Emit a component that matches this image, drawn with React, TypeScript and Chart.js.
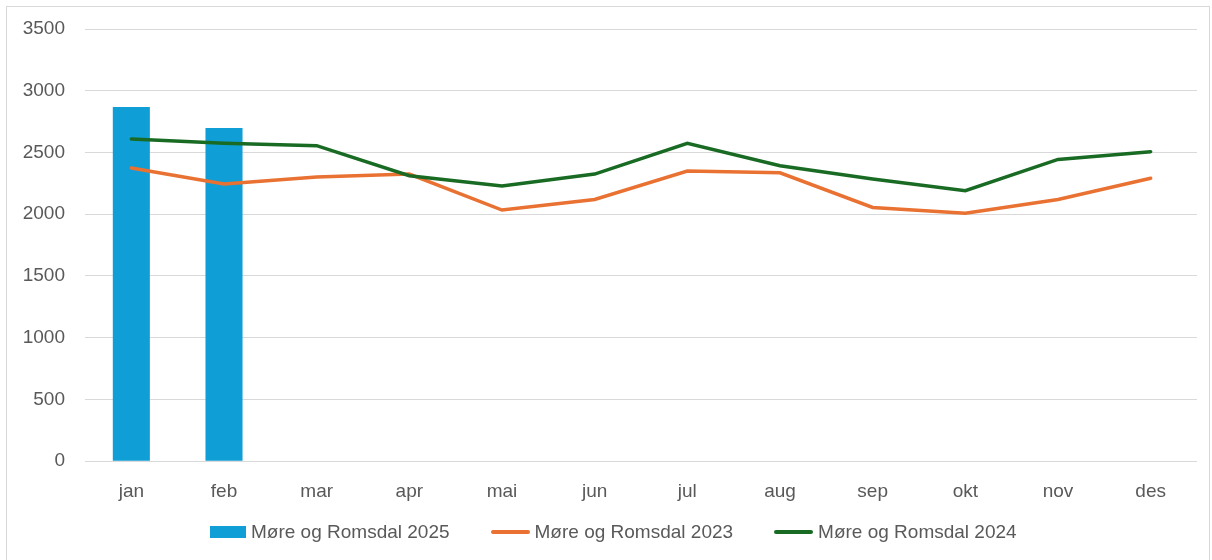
import React, { useEffect, useRef } from "react";
import { Chart, registerables } from "chart.js";

Chart.register(...registerables);

const months = ["jan", "feb", "mar", "apr", "mai", "jun", "jul", "aug", "sep", "okt", "nov", "des"];
const values2025 = [2868, 2698, null, null, null, null, null, null, null, null, null, null];
const values2023 = [2374, 2244, 2301, 2325, 2034, 2120, 2350, 2336, 2055, 2008, 2120, 2292];
const values2024 = [2609, 2575, 2555, 2312, 2228, 2325, 2574, 2393, 2285, 2190, 2444, 2506];
const yTicks = [0, 500, 1000, 1500, 2000, 2500, 3000, 3500];

const seriesNames = ["Møre og Romsdal 2025", "Møre og Romsdal 2023", "Møre og Romsdal 2024"];
const seriesColors = ["#109ED6", "#E97132", "#196B24"];

const FONT = "'Liberation Sans', Arial, sans-serif";
const TEXT = "#595959";
const FS = 19;

export default function App() {
  const ref = useRef<HTMLCanvasElement | null>(null);
  useEffect(() => {
    if (!ref.current) return;
    const chart = new Chart(ref.current, {
      type: "bar",
      data: {
        labels: months,
        datasets: [
          {
            type: "bar",
            label: seriesNames[0],
            data: values2025 as any,
            backgroundColor: seriesColors[0],
            borderWidth: 0,
            barPercentage: 0.4,
            categoryPercentage: 1,
            order: 3,
          },
          {
            type: "line",
            label: seriesNames[1],
            data: values2023,
            borderColor: seriesColors[1],
            backgroundColor: seriesColors[1],
            borderWidth: 3.5,
            pointRadius: 0,
            tension: 0,
            borderCapStyle: "round",
            order: 2,
          },
          {
            type: "line",
            label: seriesNames[2],
            data: values2024,
            borderColor: seriesColors[2],
            backgroundColor: seriesColors[2],
            borderWidth: 3.5,
            pointRadius: 0,
            tension: 0,
            borderCapStyle: "round",
            order: 1,
          },
        ] as any,
      },
      options: {
        animation: false,
        responsive: true,
        maintainAspectRatio: false,
        layout: { padding: { top: 22, right: 12, bottom: 47, left: 0 } },
        plugins: {
          tooltip: { enabled: false },
          legend: { display: false },
        },
        scales: {
          x: {
            grid: { display: false },
            border: { display: false },
            ticks: { font: { family: FONT, size: FS }, color: TEXT, padding: 11 },
          },
          y: {
            min: 0,
            max: 3500,
            afterFit: (s: any) => {
              s.width = 78;
              s.paddingTop = 0;
              s.paddingBottom = 0;
            },
            afterBuildTicks: (s: any) => {
              s.ticks = yTicks.map((v) => ({ value: v }));
            },
            grid: { color: "#D9D9D9", lineWidth: 1, drawTicks: false },
            border: { display: false },
            ticks: {
              font: { family: FONT, size: FS },
              color: TEXT,
              padding: 20,
              callback: (v: any) => String(v),
            },
          },
        },
      },
    });
    return () => chart.destroy();
  }, []);

  const legendItem = (i: number) => (
    <div key={i} style={{ display: "flex", alignItems: "center", marginRight: i < 2 ? 41 : 0 }}>
      {i === 0 ? (
        <div style={{ width: 36, height: 12, background: seriesColors[i], marginRight: 5 }} />
      ) : (
        <div style={{ width: 39, height: 4, background: seriesColors[i], borderRadius: 2, marginRight: 5 }} />
      )}
      <span style={{ fontFamily: FONT, fontSize: FS, color: TEXT, lineHeight: "22px", whiteSpace: "nowrap" }}>
        {seriesNames[i]}
      </span>
    </div>
  );

  return (
    <div
      style={{
        position: "absolute",
        left: 6,
        top: 6,
        width: 1202,
        height: 560,
        border: "1px solid #D9D9D9",
        background: "#fff",
      }}
    >
      <div style={{ position: "relative", width: 1202, height: 554 }}>
        <canvas ref={ref} />
      </div>
      <div
        style={{
          position: "absolute",
          left: 203,
          top: 514,
          display: "flex",
          alignItems: "center",
        }}
      >
        {[0, 1, 2].map(legendItem)}
      </div>
    </div>
  );
}
